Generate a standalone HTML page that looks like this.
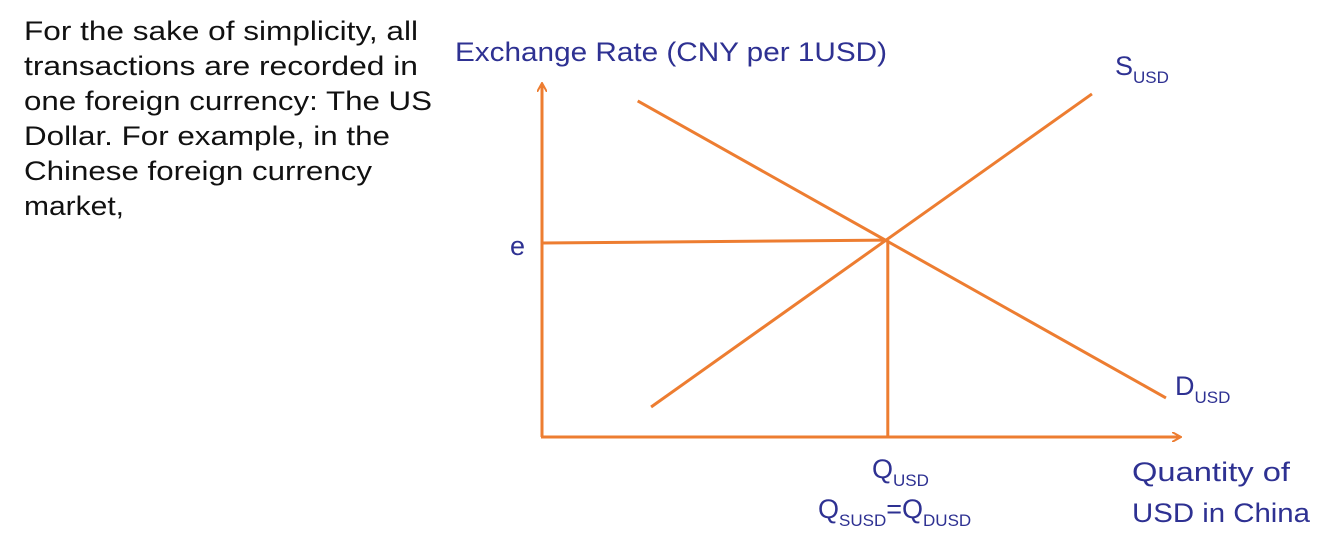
<!DOCTYPE html>
<html><head><meta charset="utf-8"><style>
body{margin:0;width:1338px;height:560px;background:#fff;overflow:hidden;font-family:"Liberation Sans",sans-serif}
svg{position:absolute;left:0;top:0}
.t{fill:#2E3192;font-family:"Liberation Sans",sans-serif}
.b{fill:#111;font-family:"Liberation Sans",sans-serif;font-size:27px}
</style></head><body>
<svg id="chart" width="1338" height="560">
<defs><marker id="ah" markerWidth="10" markerHeight="10" refX="8" refY="5" orient="auto" markerUnits="userSpaceOnUse"><path d="M0,0 L9,5 L0,10" fill="none" stroke="#ED7D31" stroke-width="2"/></marker></defs>
<g>
<text class="b" x="24" y="40" textLength="394" lengthAdjust="spacingAndGlyphs">For the sake of simplicity, all</text>
<text class="b" x="24" y="75" textLength="394" lengthAdjust="spacingAndGlyphs">transactions are recorded in</text>
<text class="b" x="24" y="110" textLength="408" lengthAdjust="spacingAndGlyphs">one foreign currency: The US</text>
<text class="b" x="24" y="145" textLength="366" lengthAdjust="spacingAndGlyphs">Dollar. For example, in the</text>
<text class="b" x="24" y="180" textLength="348" lengthAdjust="spacingAndGlyphs">Chinese foreign currency</text>
<text class="b" x="24" y="215" textLength="100" lengthAdjust="spacingAndGlyphs">market,</text>
</g>
<line x1="542" y1="437" x2="542" y2="84" stroke="#ED7D31" stroke-width="3" marker-end="url(#ah)"/>
<line x1="541" y1="437" x2="1180" y2="437" stroke="#ED7D31" stroke-width="3" marker-end="url(#ah)"/>
<g id="marks"></g>
<text class="t" x="455" y="61" font-size="27" textLength="432" lengthAdjust="spacingAndGlyphs">Exchange Rate (CNY per 1USD)</text>
<text class="t" x="1115" y="75" font-size="27">S<tspan font-size="17" dy="8">USD</tspan></text>
<text class="t" x="1175" y="395" font-size="27">D<tspan font-size="17" dy="8">USD</tspan></text>
<text class="t" x="510" y="255" font-size="27">e</text>
<text class="t" x="872" y="478" font-size="27">Q<tspan font-size="17" dy="8">USD</tspan></text>
<text class="t" x="818" y="518" font-size="27">Q<tspan font-size="17" dy="8">SUSD</tspan><tspan dy="-8">=Q</tspan><tspan font-size="17" dy="8">DUSD</tspan></text>
<text class="t" x="1132" y="481" font-size="27" textLength="158" lengthAdjust="spacingAndGlyphs">Quantity of</text>
<text class="t" x="1132" y="522" font-size="27" textLength="178" lengthAdjust="spacingAndGlyphs">USD in China</text>
</svg>
<script>
const supplyX=[1.71,8.62];
const supplyY=[0.86,9.83];
const demandX=[1.50,9.78];
const demandY=[9.63,1.12];
const equilibrium=[5.39,5.64];
const sx=v=>542+v*63.8, sy=v=>437-v*34.9;
const g=document.getElementById('marks');
function ln(x1,y1,x2,y2,name){
 const l=document.createElementNS('http://www.w3.org/2000/svg','line');
 l.setAttribute('x1',sx(x1));l.setAttribute('y1',sy(y1));l.setAttribute('x2',sx(x2));l.setAttribute('y2',sy(y2));
 l.setAttribute('stroke','#ED7D31');l.setAttribute('stroke-width','3');
 
 
 g.appendChild(l);
}
ln(supplyX[0],supplyY[0],supplyX[1],supplyY[1],'supply-curve');
ln(demandX[0],demandY[0],demandX[1],demandY[1],'demand-curve');
ln(0,equilibrium[1]-0.08,equilibrium[0],equilibrium[1],'equilibrium-rate-line');
ln(equilibrium[0]+0.03,equilibrium[1],equilibrium[0]+0.03,0,'equilibrium-quantity-line');
</script>
</body></html>
